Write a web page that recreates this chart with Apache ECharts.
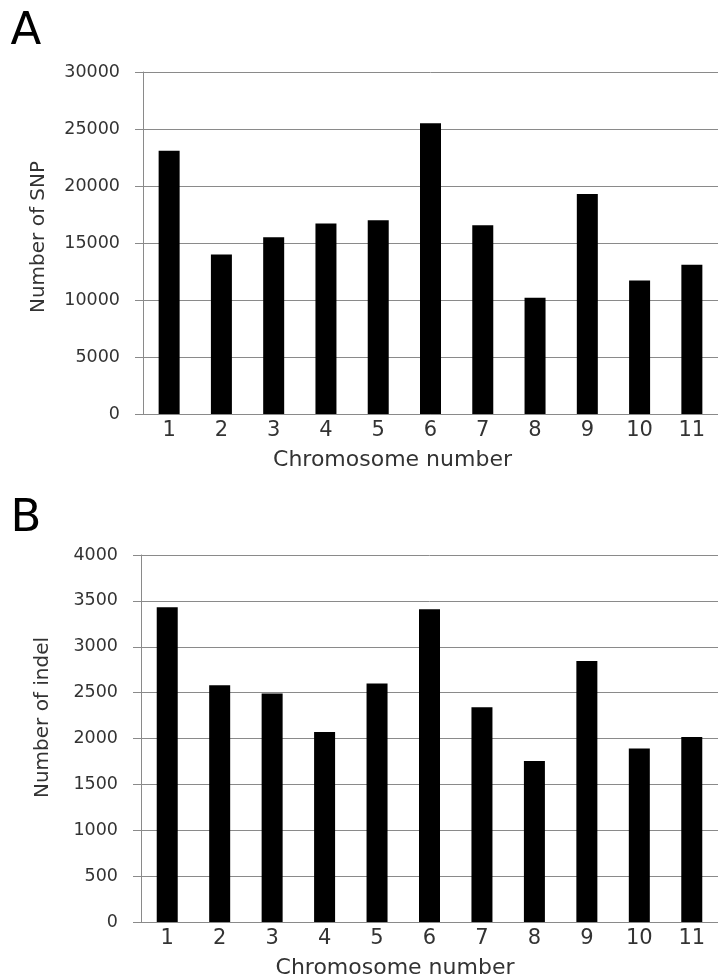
<!DOCTYPE html>
<html>
<head>
<meta charset="utf-8">
<script src="https://cdn.jsdelivr.net/npm/echarts@6/dist/echarts.min.js"></script>
<style>
  html, body { margin: 0; padding: 0; background: #fff; }
  #chart { width: 718px; height: 980px; }
</style>
</head>
<body>
<div id="chart"></div>
<script>
const chromosomes = ['1', '2', '3', '4', '5', '6', '7', '8', '9', '10', '11'];
const snpCounts = [23100, 14000, 15500, 16700, 17000, 25500, 16550, 10200, 19300, 11700, 13100];
const indelCounts = [3430, 2580, 2490, 2070, 2600, 3410, 2340, 1755, 2845, 1890, 2015];
const panelLabels = ['A', 'B'];
const xAxisTitle = 'Chromosome number';
const yAxisTitles = ['Number of SNP', 'Number of indel'];

const FONT = 'DejaVu Sans';
const gridColor = '#8a8a8a';
const textColor = '#333';

function xAxisCfg(gridIndex, rightPad) {
  return {
    type: 'category',
    gridIndex: gridIndex,
    data: chromosomes,
    axisLine: { show: true, lineStyle: { color: gridColor, width: 1 } },
    axisTick: { show: false },
    axisLabel: { color: textColor, fontFamily: FONT, fontSize: 21, margin: 6 },
    name: xAxisTitle,
    nameLocation: 'middle',
    nameGap: 35,
    nameTextStyle: { color: textColor, fontFamily: FONT, fontSize: 22, padding: [0, rightPad, 0, 0] }
  };
}

function yAxisCfg(gridIndex, max, interval, title, gap, leftPad) {
  return {
    type: 'value',
    gridIndex: gridIndex,
    min: 0,
    max: max,
    interval: interval,
    axisLine: { show: true, lineStyle: { color: gridColor, width: 1 } },
    axisTick: { show: true, length: 8, lineStyle: { color: gridColor } },
    splitLine: { show: true, lineStyle: { color: gridColor, width: 1 } },
    axisLabel: { color: textColor, fontFamily: FONT, fontSize: 17.5, margin: 23,
      formatter: function (v) { return String(v); } },
    name: title,
    nameLocation: 'middle',
    nameGap: gap,
    nameTextStyle: { color: textColor, fontFamily: FONT, fontSize: 20, padding: [0, 0, 0, leftPad] }
  };
}

const chart = echarts.init(document.getElementById('chart'), null, { renderer: 'canvas' });
chart.setOption({
  animation: false,
  backgroundColor: '#fff',
  grid: [
    { left: 143, top: 72, width: 582, height: 342 },
    { left: 141, top: 555, width: 581, height: 368 }
  ],
  xAxis: [xAxisCfg(0, 76), xAxisCfg(1, 69)],
  yAxis: [
    yAxisCfg(0, 30000, 5000, yAxisTitles[0], 94, 12),
    yAxisCfg(1, 4000, 500, yAxisTitles[1], 88, 42)
  ],
  series: [
    { type: 'bar', xAxisIndex: 0, yAxisIndex: 0, data: snpCounts, barWidth: 21,
      itemStyle: { color: '#000' } },
    { type: 'bar', xAxisIndex: 1, yAxisIndex: 1, data: indelCounts, barWidth: 21,
      itemStyle: { color: '#000' } }
  ],
  graphic: [
    { type: 'text', x: 26, y: 32, style: { text: panelLabels[0], font: '45px "DejaVu Sans"', fill: '#000', align: 'center', verticalAlign: 'middle' } },
    { type: 'text', x: 26, y: 519, style: { text: panelLabels[1], font: '45px "DejaVu Sans"', fill: '#000', align: 'center', verticalAlign: 'middle' } }
  ]
});
</script>
</body>
</html>
